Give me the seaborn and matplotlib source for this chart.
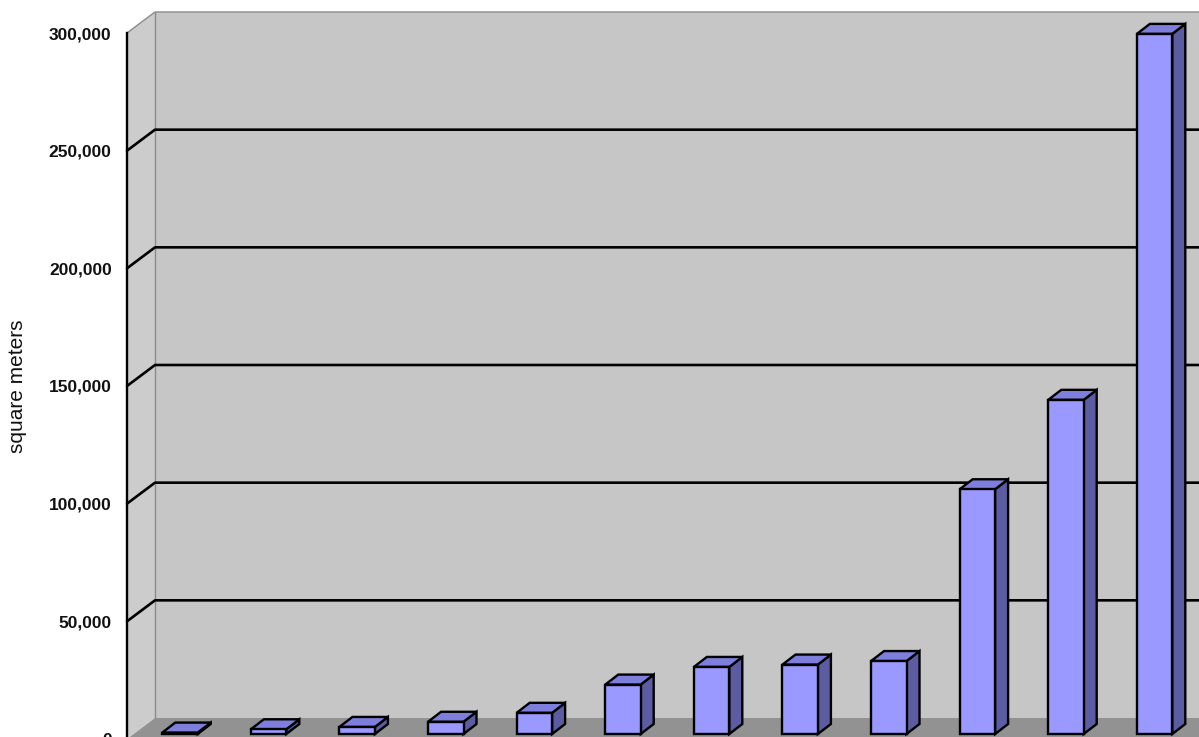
import numpy as np
import pandas as pd
import matplotlib
matplotlib.use("Agg")
import matplotlib.pyplot as plt
import seaborn as sns
from matplotlib.patches import Polygon, Rectangle
from matplotlib.lines import Line2D
from matplotlib.transforms import IdentityTransform, offset_copy
from matplotlib.ticker import FuncFormatter

# ---- data ----
categories = [str(i) for i in range(1, 13)]
values = [600, 2000, 3000, 5200, 9000, 21000, 28500, 29500, 31000, 104000, 142000, 297500]
yticks = [0, 50000, 100000, 150000, 200000, 250000, 300000]
ylabel = "square meters"

# ---- styling ----
W, H, DPI = 1199, 737, 100
WALL = np.array([28.0, 21.0])    # full depth of the 3D box (pixels)
FRONT = np.array([6.7, 5.0])     # depth offset of the bar front plane
BAR = np.array([13.0, 10.0])     # depth of each bar
FRONT_C, TOP_C, SIDE_C = "#9999FF", "#7E7EDC", "#5C5CA2"
WALL_C, SIDEWALL_C, FLOOR_C = "#C6C6C6", "#CCCCCC", "#929292"
EDGE_LW = 1.7

sns.set_theme(style="white")
plt.rcParams["font.family"] = ["Liberation Sans", "DejaVu Sans"]

fig = plt.figure(figsize=(W / DPI, H / DPI), dpi=DPI)
fig.patch.set_facecolor("white")
ax = fig.add_axes([127 / W, (737 - 739) / H, (1199 - 127) / W, (739 - 33) / H])

df = pd.DataFrame({"cat": categories, "val": values})
sns.barplot(data=df, x="cat", y="val", ax=ax, color=FRONT_C, saturation=1,
            width=0.4, edgecolor="black", linewidth=EDGE_LW, zorder=5)
bars = [p for p in ax.patches if isinstance(p, Rectangle)]

ax.set_xlim(-0.5226, 11.577)
ax.set_ylim(0, 300000)
ax.set_yticks(yticks)
ax.yaxis.set_major_formatter(FuncFormatter(lambda v, p: f"{int(v):,}"))
ax.set_xticks([])
ax.set_xlabel("")
ax.patch.set_visible(False)
for s in ["top", "right", "bottom"]:
    ax.spines[s].set_visible(False)
ax.spines["left"].set_color("black")
ax.spines["left"].set_linewidth(1.7)
ax.spines["left"].set_zorder(3)
ax.tick_params(axis="y", direction="out", length=9, width=1.6, color="black",
               pad=2, labelsize=12.5)
for lab in ax.get_yticklabels():
    lab.set_fontweight("bold")
    lab.set_color("#111111")
ax.set_ylabel(ylabel, fontsize=15, color="#111111")
ax.yaxis.set_label_coords(-0.093, 0.5)

ID = IdentityTransform()


def disp(x, y):
    return np.array(ax.transData.transform((x, y)))


def addpoly(pts, fc, ec="none", lw=0, z=1):
    poly = Polygon(np.array(pts), closed=True, facecolor=fc, edgecolor=ec,
                   linewidth=lw, transform=ID, clip_on=False, zorder=z,
                   joinstyle="miter")
    ax.add_artist(poly)


x0d, y0d = ax.transAxes.transform((0, 0))
_, ytd = ax.transAxes.transform((0, 1))
XR = W + 60
bl = np.array([x0d, y0d])
tl = np.array([x0d, ytd])

# back wall, side wall, floor
addpoly([bl + WALL, tl + WALL, (XR, ytd + WALL[1]), (XR, y0d + WALL[1])], WALL_C, z=0.5)
addpoly([bl, tl, tl + WALL, bl + WALL], SIDEWALL_C, z=0.6)
addpoly([bl, bl + WALL, (XR, y0d + WALL[1]), (XR, y0d)], FLOOR_C, z=0.7)

# wall edges
edge_kw = dict(color="#8A8A8A", lw=1.0, transform=ID, clip_on=False, zorder=0.9)
ax.add_artist(Line2D([bl[0] + WALL[0]] * 2, [y0d + WALL[1], ytd + WALL[1]], **edge_kw))
ax.add_artist(Line2D([tl[0], tl[0] + WALL[0], XR], [ytd, ytd + WALL[1], ytd + WALL[1]], **edge_kw))

# gridlines on side and back walls
for t in yticks[1:-1]:
    yd = disp(0, t)[1]
    ax.add_artist(Line2D([x0d, x0d + WALL[0], XR], [yd, yd + WALL[1], yd + WALL[1]],
                         color="black", lw=1.9, transform=ID, clip_on=False, zorder=1))

# bars: front faces from seaborn, shifted to their depth plane, plus top/side faces
front_tr = offset_copy(ax.transData, fig=fig, x=FRONT[0], y=FRONT[1], units="dots")
for p in bars:
    x0, w, h = p.get_x(), p.get_width(), p.get_height()
    p.set_transform(front_tr)
    p.set_clip_on(False)
    b_l = disp(x0, 0) + FRONT
    b_r = disp(x0 + w, 0) + FRONT
    t_r = disp(x0 + w, h) + FRONT
    t_l = disp(x0, h) + FRONT
    addpoly([b_r, t_r, t_r + BAR, b_r + BAR], SIDE_C, "black", EDGE_LW, z=4.9)
    addpoly([t_l, t_r, t_r + BAR, t_l + BAR], TOP_C, "black", EDGE_LW, z=4.9)

fig.savefig("out.png", dpi=DPI, facecolor="white")
